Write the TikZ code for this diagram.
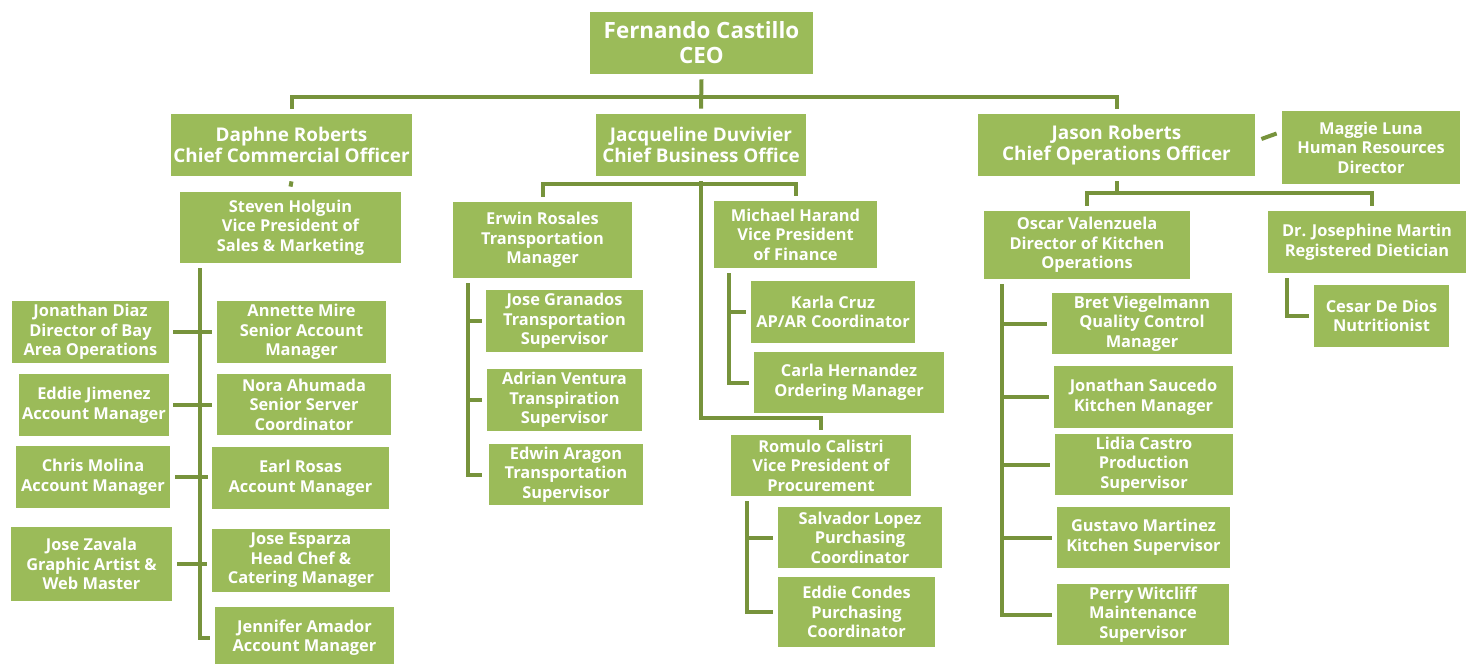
\documentclass[tikz,border=0pt]{standalone}
\usepackage{fontspec}
\setmainfont{Open Sans}
\usetikzlibrary{calc}

\definecolor{boxgreen}{HTML}{9BBB59}
\definecolor{linegreen}{HTML}{77933C}

\tikzset{
  box/.style={fill=boxgreen, text=white, align=center, inner sep=1pt},
  wh/.style 2 args={minimum width=#1*0.5pt, minimum height=#2*0.5pt},
  topbox/.style={box, font=\fontsize{11.2}{12.4}\selectfont\bfseries},
  midbox/.style={box, font=\fontsize{9.45}{10.6}\selectfont\bfseries},
  leafbox/.style={box, font=\fontsize{8.2}{9.8}\selectfont\bfseries},
  link/.style={draw=linegreen, line width=2pt},
}

\begin{document}
\begin{tikzpicture}[x=0.5pt, y=-0.5pt]
    \useasboundingbox (0,0) rectangle (1468,664);
    \fill[white] (0,0) rectangle (1468,664);
    % top of the chart
    \node[topbox, wh={223}{62}] (ceo) at (701.5,43) {Fernando Castillo\\CEO};
    \node[midbox, wh={239}{62}] (daphne) at (291.5,145) {Daphne Roberts\\Chief Commercial Officer};
    \node[midbox, wh={210}{62}] (jacq) at (701,145) {Jacqueline Duvivier\\Chief Business Office};
    \node[midbox, wh={277}{62}] (jason) at (1116.5,145) {Jason Roberts\\Chief Operations Officer};
    \node[leafbox, wh={178}{73}] (maggie) at (1371,147.5) {Maggie Luna\\Human Resources\\Director};
    % second row
    \node[leafbox, wh={221}{71}] (steven) at (290.5,227.5) {Steven Holguin\\Vice President of\\Sales \& Marketing};
    \node[leafbox, wh={179}{76}] (erwin) at (542.5,240) {Erwin Rosales\\Transportation\\Manager};
    \node[leafbox, wh={163}{67}] (michael) at (795.5,234.5) {Michael Harand\\Vice President\\of Finance};
    \node[leafbox, wh={206}{68}] (oscar) at (1087,245) {Oscar Valenzuela\\Director of Kitchen\\Operations};
    \node[leafbox, wh={198}{62}] (josephine) at (1367,242) {Dr. Josephine Martin\\Registered Dietician};
    % sales & marketing
    \node[leafbox, wh={157}{62}] (jdiaz) at (90.5,332) {Jonathan Diaz\\Director of Bay\\Area Operations};
    \node[leafbox, wh={150}{62}] (ejimenez) at (94,405) {Eddie Jimenez\\Account Manager};
    \node[leafbox, wh={154}{62}] (cmolina) at (93,477) {Chris Molina\\Account Manager};
    \node[leafbox, wh={161}{74}] (jzavala) at (91.5,564) {Jose Zavala\\Graphic Artist \&\\Web Master};
    \node[leafbox, wh={169}{62}] (annette) at (301.5,332) {Annette Mire\\Senior Account\\Manager};
    \node[leafbox, wh={174}{61}] (nora) at (304,404.5) {Nora Ahumada\\Senior Server\\Coordinator};
    \node[leafbox, wh={177}{62}] (earl) at (300.5,478) {Earl Rosas\\Account Manager};
    \node[leafbox, wh={178}{63}] (jesparza) at (301,560.5) {Jose Esparza\\Head Chef \&\\Catering Manager};
    \node[leafbox, wh={179}{61}] (jamador) at (304.5,637.5) {Jennifer Amador\\Account Manager};
    % transportation
    \node[leafbox, wh={157}{62}] (jgranados) at (564.5,321) {Jose Granados\\Transportation\\Supervisor};
    \node[leafbox, wh={155}{62}] (aventura) at (564.5,400) {Adrian Ventura\\Transpiration\\Supervisor};
    \node[leafbox, wh={154}{61}] (earagon) at (566,474.5) {Edwin Aragon\\Transportation\\Supervisor};
    % finance and procurement
    \node[leafbox, wh={164}{62}] (kcruz) at (833,312) {Karla Cruz\\AP/AR Coordinator};
    \node[leafbox, wh={190}{61}] (chernandez) at (849,382.5) {Carla Hernandez\\Ordering Manager};
    \node[leafbox, wh={180}{61}] (romulo) at (821,465.5) {Romulo Calistri\\Vice President of\\Procurement};
    \node[leafbox, wh={164}{61}] (slopez) at (860,537.5) {Salvador Lopez\\Purchasing\\Coordinator};
    \node[leafbox, wh={157}{70}] (econdes) at (856.5,612) {Eddie Condes\\Purchasing\\Coordinator};
    % kitchen
    \node[leafbox, wh={180}{61}] (bret) at (1142,323.5) {Bret Viegelmann\\Quality Control\\Manager};
    \node[leafbox, wh={179}{62}] (jsaucedo) at (1143.5,397) {Jonathan Saucedo\\Kitchen Manager};
    \node[leafbox, wh={178}{61}] (lidia) at (1144,464.5) {Lidia Castro\\Production\\Supervisor};
    \node[leafbox, wh={173}{61}] (gustavo) at (1143.5,537.5) {Gustavo Martinez\\Kitchen Supervisor};
    \node[leafbox, wh={172}{61}] (perry) at (1143,614.5) {Perry Witcliff\\Maintenance\\Supervisor};
    \node[leafbox, wh={135}{62}] (cesar) at (1381.5,316) {Cesar De Dios\\Nutritionist};

    % CEO down to the chiefs
    \coordinate (bus0) at ($(ceo.south)+(0,23)$);
    \draw[link] ($(ceo.south)+(0,5)$) -- ($(jacq.north)-(0,5)$);
    \draw[link] ($(daphne.north)-(0,5)$) |- (bus0) -| ($(jason.north)-(0,5)$);
    \draw[link] ($(jason.east)+(6,-6)$) -- ($(maggie.west)+(-5,-14)$);
    % commercial
    \draw[link] ($(daphne.south)+(0,5)$) -- ($(steven.north)-(0,5)$);
    \draw[link] ($(steven.south west)+(20,5)$) coordinate (sp) |- ($(jamador.west)-(5,0)$);
    \draw[link] ($(jdiaz.east)+(4,0)$) -- ($(jdiaz.east -| annette.west)-(5,0)$);
    \draw[link] ($(ejimenez.east)+(4,0)$) -- ($(ejimenez.east -| nora.west)-(5,0)$);
    \draw[link] ($(cmolina.east)+(5,0)$) -- ($(cmolina.east -| earl.west)-(4,0)$);
    \draw[link] ($(jzavala.east)+(5,0)$) -- ($(jzavala.east -| jesparza.west)-(5,0)$);
    % business office
    \draw[link] ($(jacq.south)+(0,5)$) |- ($(romulo.north)-(0,17)$) -- ($(romulo.north)-(0,5)$);
    \draw[link] ($(erwin.north)-(0,5)$) |- ($(jacq.south)+(0,8)$) -| ($(michael.north)-(0,5)$);
    \draw[link] ($(erwin.south west)+(15,5)$) coordinate (ersp) |- ($(earagon.west)-(7,0)$);
    \draw[link] (ersp |- jgranados.west) -- ($(jgranados.west)-(4,0)$);
    \draw[link] (ersp |- aventura.west) -- ($(aventura.west)-(5,0)$);
    \draw[link] ($(michael.south west)+(15,5)$) coordinate (misp) |- ($(chernandez.west)-(5,0)$);
    \draw[link] (misp |- kcruz.west) -- ($(kcruz.west)-(5,0)$);
    \draw[link] ($(romulo.south west)+(16,5)$) coordinate (rosp) |- ($(econdes.west)-(5,0)$);
    \draw[link] (rosp |- slopez.west) -- ($(slopez.west)-(5,0)$);
    % operations
    \draw[link] ($(jason.south)+(0,5)$) -- ($(jason.south)+(0,17)$);
    \draw[link] ($(oscar.north)-(0,5)$) |- ($(jason.south)+(0,17)$) -| ($(josephine.north)+(5,-5)$);
    \draw[link] ($(oscar.south west)+(18,5)$) coordinate (osp) |- ($(perry.west)-(5,0)$);
    \foreach \n in {bret,jsaucedo,lidia,gustavo}
      \draw[link] (osp |- \n.west) -- ($(\n.west)-(5,0)$);
    \draw[link] ($(josephine.south west)+(19,5)$) |- ($(cesar.west)-(5,0)$);
\end{tikzpicture}
\end{document}
